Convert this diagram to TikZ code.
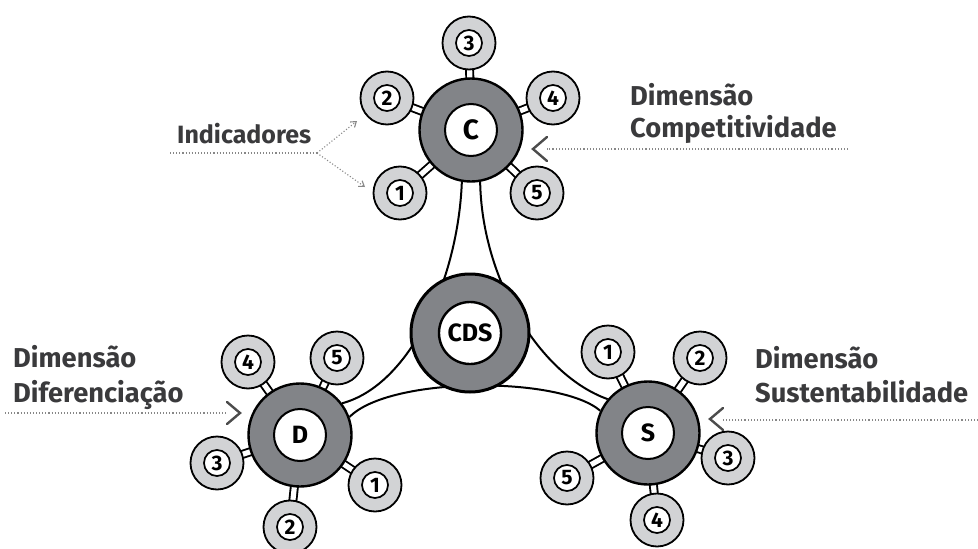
\documentclass[tikz,border=0pt]{standalone}
\usepackage{fontspec}
\setmainfont{Fira Sans}
\usetikzlibrary{arrows.meta}
\definecolor{ringc}{RGB}{130,132,136}
\definecolor{satc}{RGB}{210,211,213}
\definecolor{txtc}{RGB}{58,58,60}
\definecolor{dotc}{RGB}{135,135,135}
\pgfdeclarelayer{bg}
\pgfsetlayers{bg,main}
\tikzset{
  hubout/.style={circle, draw=black, line width=2.4, fill=ringc, minimum size=103, inner sep=0},
  hubin/.style={circle, draw=black, line width=2, fill=white, minimum size=52, inner sep=0,
     font=\fontsize{25}{25}\selectfont\bfseries},
  satout/.style={circle, draw=black, line width=1.8, fill=satc, minimum size=53, inner sep=0},
  satin/.style={circle, draw=black, line width=1.7, fill=white, minimum size=26, inner sep=0,
     font=\fontsize{21}{21}\selectfont\bfseries},
  spokeo/.style={line width=9, black},
  spokei/.style={line width=5.2, white},
  branch/.style={line width=2, black},
  lab/.style={anchor=base west, inner sep=0, text=txtc, font=\fontsize{27.3}{27.3}\selectfont\bfseries},
  dotline/.style={dotc, line width=1.1, dotted},
  chev/.style={line width=2.4, black!70, line cap=round, line join=miter},
}
\newcommand{\mysat}[3]{% name, position, number
  \node[satout] (#1) at #2 {};
  \node[satin] (#1i) at #2 {#3};
}
\begin{document}
\begin{tikzpicture}[x=1pt,y=-1pt]
\useasboundingbox (0,0) rectangle (978,549);
% hubs
\node[hubout] (C) at (471,130) {};
\node[hubin] (Ci) at (471,130) {\fontsize{28}{28}\selectfont C};
\node[hubout, minimum size=118, line width=3] (CDS) at (470,333) {};
\node[hubin, minimum size=62, line width=2.4] (CDSi) at (470,333) {CDS};
\node[hubout] (D) at (300,435) {};
\node[hubin] (Di) at (300,435) {D};
\node[hubout] (S) at (648,433) {};
\node[hubin] (Si) at (648,433) {S};
% satellites C
\mysat{C1}{(400,193)}{1}
\mysat{C2}{(387,98)}{2}
\mysat{C3}{(469,43)}{3}
\mysat{C4}{(553,98)}{4}
\mysat{C5}{(537,193)}{5}
% satellites D
\mysat{D1}{(375,485)}{1}
\mysat{D2}{(290,527)}{2}
\mysat{D3}{(217,463)}{3}
\mysat{D4}{(248,362)}{4}
\mysat{D5}{(337,358)}{5}
% satellites S
\mysat{S1}{(608,352)}{1}
\mysat{S2}{(700,358)}{2}
\mysat{S3}{(728,458)}{3}
\mysat{S4}{(657,520)}{4}
\mysat{S5}{(567,478)}{5}
\begin{pgfonlayer}{bg}
  \draw[branch] (C.-100) .. controls (458,280) and (410,385) .. (D.37);
  \draw[branch] (C.-80) .. controls (482,280) and (540,375) .. (S.140);
  \draw[branch] (D.20) .. controls (390,376) and (560,376) .. (S.155);
  \foreach \h in {C,D,S}{
    \foreach \k in {1,...,5}{
      \draw[spokeo] (\h.center) -- (\h\k.center);
      \draw[spokei] (\h.center) -- (\h\k.center);
    }
  }
\end{pgfonlayer}
% labels
\node[lab] (lc1) at (630,105) {Dimensão};
\node[lab] (lc2) at (630,137) {Competitividade};
\node[lab] (ld1) at (13,367) {Dimensão};
\node[lab] (ld2) at (13,402) {Diferenciação};
\node[lab] (ls1) at (755,368) {Dimensão};
\node[lab] (ls2) at (755,402) {Sustentabilidade};
\node[lab, font=\fontsize{25}{25}\selectfont\bfseries] (ind) at (177,143) {Indicadores};
% pointer lines
\coordinate (pc0) at (848,149); \coordinate (pc1) at (547,149);
\draw[dotline] (pc0) -- (pc1);
\draw[chev] (547,137) -- (533,149) -- (547,161);
\coordinate (pd0) at (5,413); \coordinate (pd1) at (227,413);
\draw[dotline] (pd0) -- (pd1);
\draw[chev] (227,402) -- (240,413) -- (227,424);
\coordinate (ps0) at (978,420); \coordinate (ps1) at (723,420);
\draw[dotline] (ps0) -- (ps1);
\draw[chev] (723,408) -- (710,419) -- (723,430);
\coordinate (pi0) at (170,153); \coordinate (pi1) at (317,153);
\draw[dotline] (pi0) -- (pi1);
\draw[dotline, -{Straight Barb[length=5pt,width=7pt,line width=1.1pt]}] (pi1) -- (357,121);
\draw[dotline, -{Straight Barb[length=5pt,width=7pt,line width=1.1pt]}] (pi1) -- (365,187);
\end{tikzpicture}
\end{document}
